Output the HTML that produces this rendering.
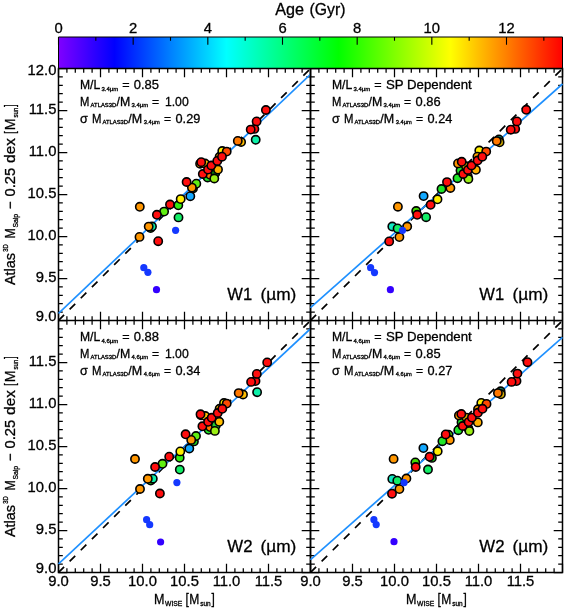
<!DOCTYPE html>
<html><head><meta charset="utf-8"><title>Age (Gyr)</title>
<style>html,body{margin:0;padding:0;background:#fff}svg{display:block;will-change:transform}text{font-family:"Liberation Sans", sans-serif;fill:#000;stroke:#000;stroke-width:0.3px}</style>
</head><body>
<svg width="564" height="608" viewBox="0 0 564 608">
<rect width="564" height="608" fill="#fff"/>
<defs><linearGradient id="cb" x1="0" y1="0" x2="1" y2="0">
<stop offset="0.0000" stop-color="#8000ff"/>
<stop offset="0.0185" stop-color="#6a00ff"/>
<stop offset="0.0370" stop-color="#5500ff"/>
<stop offset="0.0556" stop-color="#4000ff"/>
<stop offset="0.0741" stop-color="#2a00ff"/>
<stop offset="0.0926" stop-color="#1500ff"/>
<stop offset="0.1111" stop-color="#0000ff"/>
<stop offset="0.1296" stop-color="#0015ff"/>
<stop offset="0.1481" stop-color="#002bff"/>
<stop offset="0.1667" stop-color="#0040ff"/>
<stop offset="0.1852" stop-color="#0055ff"/>
<stop offset="0.2037" stop-color="#006aff"/>
<stop offset="0.2222" stop-color="#0080ff"/>
<stop offset="0.2407" stop-color="#0095ff"/>
<stop offset="0.2593" stop-color="#00aaff"/>
<stop offset="0.2778" stop-color="#00bfff"/>
<stop offset="0.2963" stop-color="#00d4ff"/>
<stop offset="0.3148" stop-color="#00eaff"/>
<stop offset="0.3333" stop-color="#00ffff"/>
<stop offset="0.3519" stop-color="#00ffea"/>
<stop offset="0.3704" stop-color="#00ffd4"/>
<stop offset="0.3889" stop-color="#00ffbf"/>
<stop offset="0.4074" stop-color="#00ffaa"/>
<stop offset="0.4259" stop-color="#00ff95"/>
<stop offset="0.4444" stop-color="#00ff80"/>
<stop offset="0.4630" stop-color="#00ff6a"/>
<stop offset="0.4815" stop-color="#00ff55"/>
<stop offset="0.5000" stop-color="#00ff40"/>
<stop offset="0.5185" stop-color="#00ff2a"/>
<stop offset="0.5370" stop-color="#00ff15"/>
<stop offset="0.5556" stop-color="#00ff00"/>
<stop offset="0.5741" stop-color="#15ff00"/>
<stop offset="0.5926" stop-color="#2aff00"/>
<stop offset="0.6111" stop-color="#40ff00"/>
<stop offset="0.6296" stop-color="#55ff00"/>
<stop offset="0.6481" stop-color="#6aff00"/>
<stop offset="0.6667" stop-color="#80ff00"/>
<stop offset="0.6852" stop-color="#95ff00"/>
<stop offset="0.7037" stop-color="#aaff00"/>
<stop offset="0.7222" stop-color="#bfff00"/>
<stop offset="0.7407" stop-color="#d4ff00"/>
<stop offset="0.7593" stop-color="#eaff00"/>
<stop offset="0.7778" stop-color="#ffff00"/>
<stop offset="0.7963" stop-color="#ffea00"/>
<stop offset="0.8148" stop-color="#ffd500"/>
<stop offset="0.8333" stop-color="#ffbf00"/>
<stop offset="0.8519" stop-color="#ffaa00"/>
<stop offset="0.8704" stop-color="#ff9500"/>
<stop offset="0.8889" stop-color="#ff8000"/>
<stop offset="0.9074" stop-color="#ff6a00"/>
<stop offset="0.9259" stop-color="#ff5500"/>
<stop offset="0.9444" stop-color="#ff4000"/>
<stop offset="0.9630" stop-color="#ff2a00"/>
<stop offset="0.9815" stop-color="#ff1500"/>
<stop offset="1.0000" stop-color="#ff0000"/>
</linearGradient>
<clipPath id="cTL"><rect x="57.90" y="67.90" width="253.20" height="253.20"/></clipPath>
<clipPath id="cTR"><rect x="309.90" y="67.90" width="253.20" height="253.20"/></clipPath>
<clipPath id="cBL"><rect x="57.90" y="319.90" width="253.20" height="253.20"/></clipPath>
<clipPath id="cBR"><rect x="309.90" y="319.90" width="253.20" height="253.20"/></clipPath>
</defs>
<rect x="58.50" y="37.00" width="504.00" height="31.50" fill="url(#cb)"/>
<path d="M58.50 68.50V37.00H562.50V68.50" fill="none" stroke="#000" stroke-width="1"/>
<path d="M58.50 37.00v7.80M95.83 37.00v3.80M133.17 37.00v7.80M170.50 37.00v3.80M207.83 37.00v7.80M245.17 37.00v3.80M282.50 37.00v7.80M319.83 37.00v3.80M357.17 37.00v7.80M394.50 37.00v3.80M431.83 37.00v7.80M469.17 37.00v3.80M506.50 37.00v7.80M543.83 37.00v3.80" stroke="#000" stroke-width="1.1" fill="none"/>
<text x="58.50" y="32.6" font-size="14.8" text-anchor="middle">0</text>
<text x="133.17" y="32.6" font-size="14.8" text-anchor="middle">2</text>
<text x="207.83" y="32.6" font-size="14.8" text-anchor="middle">4</text>
<text x="282.50" y="32.6" font-size="14.8" text-anchor="middle">6</text>
<text x="357.17" y="32.6" font-size="14.8" text-anchor="middle">8</text>
<text x="431.83" y="32.6" font-size="14.8" text-anchor="middle">10</text>
<text x="506.50" y="32.6" font-size="14.8" text-anchor="middle">12</text>
<path d="M58.50 68.50H562.50V572.50H58.50ZM310.50 68.50V572.50M58.50 320.50H562.50" stroke="#000" stroke-width="1.50" fill="none" stroke-linecap="butt" stroke-linejoin="miter"/>
<path d="M58.50 68.50v8.80M58.50 311.70v17.60M58.50 572.50v-8.80M66.90 68.50v4.30M66.90 316.20v8.60M66.90 572.50v-4.30M75.30 68.50v4.30M75.30 316.20v8.60M75.30 572.50v-4.30M83.70 68.50v4.30M83.70 316.20v8.60M83.70 572.50v-4.30M92.10 68.50v4.30M92.10 316.20v8.60M92.10 572.50v-4.30M100.50 68.50v8.80M100.50 311.70v17.60M100.50 572.50v-8.80M108.90 68.50v4.30M108.90 316.20v8.60M108.90 572.50v-4.30M117.30 68.50v4.30M117.30 316.20v8.60M117.30 572.50v-4.30M125.70 68.50v4.30M125.70 316.20v8.60M125.70 572.50v-4.30M134.10 68.50v4.30M134.10 316.20v8.60M134.10 572.50v-4.30M142.50 68.50v8.80M142.50 311.70v17.60M142.50 572.50v-8.80M150.90 68.50v4.30M150.90 316.20v8.60M150.90 572.50v-4.30M159.30 68.50v4.30M159.30 316.20v8.60M159.30 572.50v-4.30M167.70 68.50v4.30M167.70 316.20v8.60M167.70 572.50v-4.30M176.10 68.50v4.30M176.10 316.20v8.60M176.10 572.50v-4.30M184.50 68.50v8.80M184.50 311.70v17.60M184.50 572.50v-8.80M192.90 68.50v4.30M192.90 316.20v8.60M192.90 572.50v-4.30M201.30 68.50v4.30M201.30 316.20v8.60M201.30 572.50v-4.30M209.70 68.50v4.30M209.70 316.20v8.60M209.70 572.50v-4.30M218.10 68.50v4.30M218.10 316.20v8.60M218.10 572.50v-4.30M226.50 68.50v8.80M226.50 311.70v17.60M226.50 572.50v-8.80M234.90 68.50v4.30M234.90 316.20v8.60M234.90 572.50v-4.30M243.30 68.50v4.30M243.30 316.20v8.60M243.30 572.50v-4.30M251.70 68.50v4.30M251.70 316.20v8.60M251.70 572.50v-4.30M260.10 68.50v4.30M260.10 316.20v8.60M260.10 572.50v-4.30M268.50 68.50v8.80M268.50 311.70v17.60M268.50 572.50v-8.80M276.90 68.50v4.30M276.90 316.20v8.60M276.90 572.50v-4.30M285.30 68.50v4.30M285.30 316.20v8.60M285.30 572.50v-4.30M293.70 68.50v4.30M293.70 316.20v8.60M293.70 572.50v-4.30M302.10 68.50v4.30M302.10 316.20v8.60M302.10 572.50v-4.30M310.50 68.50v8.80M310.50 311.70v17.60M310.50 572.50v-8.80M310.50 68.50v8.80M310.50 311.70v17.60M310.50 572.50v-8.80M318.90 68.50v4.30M318.90 316.20v8.60M318.90 572.50v-4.30M327.30 68.50v4.30M327.30 316.20v8.60M327.30 572.50v-4.30M335.70 68.50v4.30M335.70 316.20v8.60M335.70 572.50v-4.30M344.10 68.50v4.30M344.10 316.20v8.60M344.10 572.50v-4.30M352.50 68.50v8.80M352.50 311.70v17.60M352.50 572.50v-8.80M360.90 68.50v4.30M360.90 316.20v8.60M360.90 572.50v-4.30M369.30 68.50v4.30M369.30 316.20v8.60M369.30 572.50v-4.30M377.70 68.50v4.30M377.70 316.20v8.60M377.70 572.50v-4.30M386.10 68.50v4.30M386.10 316.20v8.60M386.10 572.50v-4.30M394.50 68.50v8.80M394.50 311.70v17.60M394.50 572.50v-8.80M402.90 68.50v4.30M402.90 316.20v8.60M402.90 572.50v-4.30M411.30 68.50v4.30M411.30 316.20v8.60M411.30 572.50v-4.30M419.70 68.50v4.30M419.70 316.20v8.60M419.70 572.50v-4.30M428.10 68.50v4.30M428.10 316.20v8.60M428.10 572.50v-4.30M436.50 68.50v8.80M436.50 311.70v17.60M436.50 572.50v-8.80M444.90 68.50v4.30M444.90 316.20v8.60M444.90 572.50v-4.30M453.30 68.50v4.30M453.30 316.20v8.60M453.30 572.50v-4.30M461.70 68.50v4.30M461.70 316.20v8.60M461.70 572.50v-4.30M470.10 68.50v4.30M470.10 316.20v8.60M470.10 572.50v-4.30M478.50 68.50v8.80M478.50 311.70v17.60M478.50 572.50v-8.80M486.90 68.50v4.30M486.90 316.20v8.60M486.90 572.50v-4.30M495.30 68.50v4.30M495.30 316.20v8.60M495.30 572.50v-4.30M503.70 68.50v4.30M503.70 316.20v8.60M503.70 572.50v-4.30M512.10 68.50v4.30M512.10 316.20v8.60M512.10 572.50v-4.30M520.50 68.50v8.80M520.50 311.70v17.60M520.50 572.50v-8.80M528.90 68.50v4.30M528.90 316.20v8.60M528.90 572.50v-4.30M537.30 68.50v4.30M537.30 316.20v8.60M537.30 572.50v-4.30M545.70 68.50v4.30M545.70 316.20v8.60M545.70 572.50v-4.30M554.10 68.50v4.30M554.10 316.20v8.60M554.10 572.50v-4.30M562.50 68.50v8.80M562.50 311.70v17.60M562.50 572.50v-8.80M58.50 68.50h8.80M301.70 68.50h17.60M562.50 68.50h-8.80M58.50 76.90h4.30M306.20 76.90h8.60M562.50 76.90h-4.30M58.50 85.30h4.30M306.20 85.30h8.60M562.50 85.30h-4.30M58.50 93.70h4.30M306.20 93.70h8.60M562.50 93.70h-4.30M58.50 102.10h4.30M306.20 102.10h8.60M562.50 102.10h-4.30M58.50 110.50h8.80M301.70 110.50h17.60M562.50 110.50h-8.80M58.50 118.90h4.30M306.20 118.90h8.60M562.50 118.90h-4.30M58.50 127.30h4.30M306.20 127.30h8.60M562.50 127.30h-4.30M58.50 135.70h4.30M306.20 135.70h8.60M562.50 135.70h-4.30M58.50 144.10h4.30M306.20 144.10h8.60M562.50 144.10h-4.30M58.50 152.50h8.80M301.70 152.50h17.60M562.50 152.50h-8.80M58.50 160.90h4.30M306.20 160.90h8.60M562.50 160.90h-4.30M58.50 169.30h4.30M306.20 169.30h8.60M562.50 169.30h-4.30M58.50 177.70h4.30M306.20 177.70h8.60M562.50 177.70h-4.30M58.50 186.10h4.30M306.20 186.10h8.60M562.50 186.10h-4.30M58.50 194.50h8.80M301.70 194.50h17.60M562.50 194.50h-8.80M58.50 202.90h4.30M306.20 202.90h8.60M562.50 202.90h-4.30M58.50 211.30h4.30M306.20 211.30h8.60M562.50 211.30h-4.30M58.50 219.70h4.30M306.20 219.70h8.60M562.50 219.70h-4.30M58.50 228.10h4.30M306.20 228.10h8.60M562.50 228.10h-4.30M58.50 236.50h8.80M301.70 236.50h17.60M562.50 236.50h-8.80M58.50 244.90h4.30M306.20 244.90h8.60M562.50 244.90h-4.30M58.50 253.30h4.30M306.20 253.30h8.60M562.50 253.30h-4.30M58.50 261.70h4.30M306.20 261.70h8.60M562.50 261.70h-4.30M58.50 270.10h4.30M306.20 270.10h8.60M562.50 270.10h-4.30M58.50 278.50h8.80M301.70 278.50h17.60M562.50 278.50h-8.80M58.50 286.90h4.30M306.20 286.90h8.60M562.50 286.90h-4.30M58.50 295.30h4.30M306.20 295.30h8.60M562.50 295.30h-4.30M58.50 303.70h4.30M306.20 303.70h8.60M562.50 303.70h-4.30M58.50 312.10h4.30M306.20 312.10h8.60M562.50 312.10h-4.30M58.50 320.50h8.80M301.70 320.50h17.60M562.50 320.50h-8.80M58.50 320.50h8.80M301.70 320.50h17.60M562.50 320.50h-8.80M58.50 328.90h4.30M306.20 328.90h8.60M562.50 328.90h-4.30M58.50 337.30h4.30M306.20 337.30h8.60M562.50 337.30h-4.30M58.50 345.70h4.30M306.20 345.70h8.60M562.50 345.70h-4.30M58.50 354.10h4.30M306.20 354.10h8.60M562.50 354.10h-4.30M58.50 362.50h8.80M301.70 362.50h17.60M562.50 362.50h-8.80M58.50 370.90h4.30M306.20 370.90h8.60M562.50 370.90h-4.30M58.50 379.30h4.30M306.20 379.30h8.60M562.50 379.30h-4.30M58.50 387.70h4.30M306.20 387.70h8.60M562.50 387.70h-4.30M58.50 396.10h4.30M306.20 396.10h8.60M562.50 396.10h-4.30M58.50 404.50h8.80M301.70 404.50h17.60M562.50 404.50h-8.80M58.50 412.90h4.30M306.20 412.90h8.60M562.50 412.90h-4.30M58.50 421.30h4.30M306.20 421.30h8.60M562.50 421.30h-4.30M58.50 429.70h4.30M306.20 429.70h8.60M562.50 429.70h-4.30M58.50 438.10h4.30M306.20 438.10h8.60M562.50 438.10h-4.30M58.50 446.50h8.80M301.70 446.50h17.60M562.50 446.50h-8.80M58.50 454.90h4.30M306.20 454.90h8.60M562.50 454.90h-4.30M58.50 463.30h4.30M306.20 463.30h8.60M562.50 463.30h-4.30M58.50 471.70h4.30M306.20 471.70h8.60M562.50 471.70h-4.30M58.50 480.10h4.30M306.20 480.10h8.60M562.50 480.10h-4.30M58.50 488.50h8.80M301.70 488.50h17.60M562.50 488.50h-8.80M58.50 496.90h4.30M306.20 496.90h8.60M562.50 496.90h-4.30M58.50 505.30h4.30M306.20 505.30h8.60M562.50 505.30h-4.30M58.50 513.70h4.30M306.20 513.70h8.60M562.50 513.70h-4.30M58.50 522.10h4.30M306.20 522.10h8.60M562.50 522.10h-4.30M58.50 530.50h8.80M301.70 530.50h17.60M562.50 530.50h-8.80M58.50 538.90h4.30M306.20 538.90h8.60M562.50 538.90h-4.30M58.50 547.30h4.30M306.20 547.30h8.60M562.50 547.30h-4.30M58.50 555.70h4.30M306.20 555.70h8.60M562.50 555.70h-4.30M58.50 564.10h4.30M306.20 564.10h8.60M562.50 564.10h-4.30M58.50 572.50h8.80M301.70 572.50h17.60M562.50 572.50h-8.80" stroke="#000" stroke-width="1.25" fill="none" stroke-linecap="butt"/>
<g clip-path="url(#cTL)">
<line x1="58.50" y1="320.50" x2="310.50" y2="68.50" stroke="#000" stroke-width="1.7" stroke-dasharray="7.9 7.84"/>
<line x1="58.50" y1="313.40" x2="310.50" y2="74.30" stroke="#1e90ff" stroke-width="1.7"/>
<circle cx="139.5" cy="236.9" r="4.15" fill="#ff9600" stroke="#000" stroke-width="1.6"/>
<circle cx="158.2" cy="241.2" r="4.15" fill="#ff0e0e" stroke="#000" stroke-width="1.6"/>
<circle cx="150.6" cy="228.0" r="4.15" fill="#22cc22" stroke="#000" stroke-width="1.6"/>
<circle cx="152.0" cy="226.5" r="4.15" fill="#0cf0a8" stroke="#000" stroke-width="1.6"/>
<circle cx="148.7" cy="226.6" r="4.15" fill="#ff9600" stroke="#000" stroke-width="1.6"/>
<circle cx="139.8" cy="206.8" r="4.15" fill="#ff9600" stroke="#000" stroke-width="1.6"/>
<circle cx="164.1" cy="211.6" r="4.15" fill="#5fee12" stroke="#000" stroke-width="1.6"/>
<circle cx="156.9" cy="214.8" r="4.15" fill="#ff0e0e" stroke="#000" stroke-width="1.6"/>
<circle cx="170.0" cy="204.5" r="4.15" fill="#ff0e0e" stroke="#000" stroke-width="1.6"/>
<circle cx="178.5" cy="217.4" r="4.15" fill="#12ee66" stroke="#000" stroke-width="1.6"/>
<circle cx="178.3" cy="205.3" r="4.15" fill="#33ee11" stroke="#000" stroke-width="1.6"/>
<circle cx="180.7" cy="199.1" r="4.15" fill="#ffee00" stroke="#000" stroke-width="1.6"/>
<circle cx="190.3" cy="196.2" r="4.15" fill="#12a8ff" stroke="#000" stroke-width="1.6"/>
<circle cx="193.0" cy="188.6" r="4.15" fill="#0c6c0c" stroke="#000" stroke-width="1.6"/>
<circle cx="196.3" cy="183.7" r="4.15" fill="#5fee12" stroke="#000" stroke-width="1.6"/>
<circle cx="191.9" cy="187.6" r="4.15" fill="#ff9600" stroke="#000" stroke-width="1.6"/>
<circle cx="186.6" cy="182.0" r="4.15" fill="#ff0e0e" stroke="#000" stroke-width="1.6"/>
<circle cx="207.6" cy="177.5" r="4.15" fill="#1fe628" stroke="#000" stroke-width="1.6"/>
<circle cx="210.2" cy="174.8" r="4.15" fill="#ff7800" stroke="#000" stroke-width="1.6"/>
<circle cx="215.3" cy="173.3" r="4.15" fill="#0a7a0a" stroke="#000" stroke-width="1.6"/>
<circle cx="214.3" cy="178.5" r="4.15" fill="#9bee14" stroke="#000" stroke-width="1.6"/>
<circle cx="200.1" cy="163.7" r="4.15" fill="#ff9600" stroke="#000" stroke-width="1.6"/>
<circle cx="205.0" cy="163.5" r="4.15" fill="#ffbe00" stroke="#000" stroke-width="1.6"/>
<circle cx="201.2" cy="162.2" r="4.15" fill="#ff0e0e" stroke="#000" stroke-width="1.6"/>
<circle cx="202.8" cy="174.0" r="4.15" fill="#ff0e0e" stroke="#000" stroke-width="1.6"/>
<circle cx="208.0" cy="169.6" r="4.15" fill="#ff0e0e" stroke="#000" stroke-width="1.6"/>
<circle cx="218.0" cy="169.6" r="4.15" fill="#ffb000" stroke="#000" stroke-width="1.6"/>
<circle cx="211.3" cy="165.5" r="4.15" fill="#ff0e0e" stroke="#000" stroke-width="1.6"/>
<circle cx="219.6" cy="156.8" r="4.15" fill="#ffbe00" stroke="#000" stroke-width="1.6"/>
<circle cx="217.3" cy="160.9" r="4.15" fill="#ff0e0e" stroke="#000" stroke-width="1.6"/>
<circle cx="222.3" cy="151.0" r="4.15" fill="#ffee00" stroke="#000" stroke-width="1.6"/>
<circle cx="226.7" cy="151.6" r="4.15" fill="#ff4a00" stroke="#000" stroke-width="1.6"/>
<circle cx="222.0" cy="156.7" r="4.15" fill="#ff0e0e" stroke="#000" stroke-width="1.6"/>
<circle cx="241.1" cy="142.0" r="4.15" fill="#ffbe00" stroke="#000" stroke-width="1.6"/>
<circle cx="237.8" cy="140.9" r="4.15" fill="#ff7800" stroke="#000" stroke-width="1.6"/>
<circle cx="255.7" cy="139.8" r="4.15" fill="#0cf0a8" stroke="#000" stroke-width="1.6"/>
<circle cx="254.4" cy="128.9" r="4.15" fill="#ff0e0e" stroke="#000" stroke-width="1.6"/>
<circle cx="250.7" cy="129.6" r="4.15" fill="#ff0e0e" stroke="#000" stroke-width="1.6"/>
<circle cx="256.6" cy="121.4" r="4.15" fill="#ff0e0e" stroke="#000" stroke-width="1.6"/>
<circle cx="265.9" cy="110.0" r="4.15" fill="#ff0e0e" stroke="#000" stroke-width="1.6"/>
<circle cx="175.6" cy="230.3" r="3.6" fill="#1438ff"/>
<circle cx="143.8" cy="267.7" r="3.6" fill="#1438ff"/>
<circle cx="147.9" cy="272.3" r="3.6" fill="#1438ff"/>
<circle cx="156.5" cy="289.7" r="3.6" fill="#3300ff"/>
</g>
<g clip-path="url(#cBL)">
<line x1="58.50" y1="572.50" x2="310.50" y2="320.50" stroke="#000" stroke-width="1.7" stroke-dasharray="7.9 7.84"/>
<line x1="58.50" y1="564.00" x2="310.50" y2="328.70" stroke="#1e90ff" stroke-width="1.7"/>
<circle cx="140.0" cy="489.0" r="4.15" fill="#ff9600" stroke="#000" stroke-width="1.6"/>
<circle cx="159.9" cy="493.5" r="4.15" fill="#ff0e0e" stroke="#000" stroke-width="1.6"/>
<circle cx="150.8" cy="480.5" r="4.15" fill="#22cc22" stroke="#000" stroke-width="1.6"/>
<circle cx="152.8" cy="478.7" r="4.15" fill="#0cf0a8" stroke="#000" stroke-width="1.6"/>
<circle cx="147.8" cy="478.8" r="4.15" fill="#ff9600" stroke="#000" stroke-width="1.6"/>
<circle cx="135.0" cy="459.0" r="4.15" fill="#ff9600" stroke="#000" stroke-width="1.6"/>
<circle cx="162.5" cy="463.8" r="4.15" fill="#5fee12" stroke="#000" stroke-width="1.6"/>
<circle cx="155.1" cy="467.0" r="4.15" fill="#ff0e0e" stroke="#000" stroke-width="1.6"/>
<circle cx="169.2" cy="456.7" r="4.15" fill="#ff0e0e" stroke="#000" stroke-width="1.6"/>
<circle cx="179.8" cy="469.6" r="4.15" fill="#12ee66" stroke="#000" stroke-width="1.6"/>
<circle cx="179.7" cy="457.8" r="4.15" fill="#33ee11" stroke="#000" stroke-width="1.6"/>
<circle cx="180.3" cy="451.4" r="4.15" fill="#ffee00" stroke="#000" stroke-width="1.6"/>
<circle cx="189.3" cy="448.5" r="4.15" fill="#12a8ff" stroke="#000" stroke-width="1.6"/>
<circle cx="193.9" cy="441.4" r="4.15" fill="#22cc22" stroke="#000" stroke-width="1.6"/>
<circle cx="196.0" cy="436.0" r="4.15" fill="#5fee12" stroke="#000" stroke-width="1.6"/>
<circle cx="191.2" cy="439.9" r="4.15" fill="#ff9600" stroke="#000" stroke-width="1.6"/>
<circle cx="185.6" cy="434.3" r="4.15" fill="#ff0e0e" stroke="#000" stroke-width="1.6"/>
<circle cx="208.6" cy="429.8" r="4.15" fill="#1fe628" stroke="#000" stroke-width="1.6"/>
<circle cx="210.2" cy="427.1" r="4.15" fill="#ff7800" stroke="#000" stroke-width="1.6"/>
<circle cx="215.8" cy="425.4" r="4.15" fill="#22cc33" stroke="#000" stroke-width="1.6"/>
<circle cx="214.9" cy="430.9" r="4.15" fill="#9bee14" stroke="#000" stroke-width="1.6"/>
<circle cx="201.0" cy="415.3" r="4.15" fill="#ff9600" stroke="#000" stroke-width="1.6"/>
<circle cx="205.2" cy="416.0" r="4.15" fill="#ffbe00" stroke="#000" stroke-width="1.6"/>
<circle cx="200.5" cy="414.3" r="4.15" fill="#ff0e0e" stroke="#000" stroke-width="1.6"/>
<circle cx="202.4" cy="426.3" r="4.15" fill="#ff0e0e" stroke="#000" stroke-width="1.6"/>
<circle cx="208.1" cy="421.8" r="4.15" fill="#ff0e0e" stroke="#000" stroke-width="1.6"/>
<circle cx="219.3" cy="421.8" r="4.15" fill="#ffbe00" stroke="#000" stroke-width="1.6"/>
<circle cx="211.7" cy="417.8" r="4.15" fill="#ff0e0e" stroke="#000" stroke-width="1.6"/>
<circle cx="219.6" cy="408.8" r="4.15" fill="#ffbe00" stroke="#000" stroke-width="1.6"/>
<circle cx="217.7" cy="413.0" r="4.15" fill="#ff0e0e" stroke="#000" stroke-width="1.6"/>
<circle cx="224.0" cy="403.0" r="4.15" fill="#ffee00" stroke="#000" stroke-width="1.6"/>
<circle cx="226.7" cy="403.6" r="4.15" fill="#ff4a00" stroke="#000" stroke-width="1.6"/>
<circle cx="222.3" cy="408.8" r="4.15" fill="#ff0e0e" stroke="#000" stroke-width="1.6"/>
<circle cx="243.0" cy="394.5" r="4.15" fill="#ffbe00" stroke="#000" stroke-width="1.6"/>
<circle cx="238.7" cy="393.1" r="4.15" fill="#ff7800" stroke="#000" stroke-width="1.6"/>
<circle cx="257.1" cy="392.2" r="4.15" fill="#0cf0a8" stroke="#000" stroke-width="1.6"/>
<circle cx="255.5" cy="381.1" r="4.15" fill="#ff0e0e" stroke="#000" stroke-width="1.6"/>
<circle cx="251.1" cy="381.9" r="4.15" fill="#ff0e0e" stroke="#000" stroke-width="1.6"/>
<circle cx="256.8" cy="373.9" r="4.15" fill="#ff0e0e" stroke="#000" stroke-width="1.6"/>
<circle cx="267.2" cy="362.4" r="4.15" fill="#ff0e0e" stroke="#000" stroke-width="1.6"/>
<circle cx="176.9" cy="482.6" r="3.6" fill="#1438ff"/>
<circle cx="146.6" cy="519.7" r="3.6" fill="#1438ff"/>
<circle cx="149.7" cy="524.7" r="3.6" fill="#1438ff"/>
<circle cx="160.6" cy="542.0" r="3.6" fill="#3300ff"/>
</g>
<path d="M310.50 68.50V572.50" stroke="#000" stroke-width="1.50" fill="none"/>
<g clip-path="url(#cTR)">
<line x1="310.50" y1="320.50" x2="562.50" y2="68.50" stroke="#000" stroke-width="1.7" stroke-dasharray="7.9 7.84"/>
<line x1="310.50" y1="307.70" x2="562.50" y2="84.00" stroke="#1e90ff" stroke-width="1.7"/>
<circle cx="389.2" cy="241.4" r="4.15" fill="#ff0e0e" stroke="#000" stroke-width="1.6"/>
<circle cx="399.4" cy="237.1" r="4.15" fill="#ff9600" stroke="#000" stroke-width="1.6"/>
<circle cx="392.3" cy="226.5" r="4.15" fill="#12e8c0" stroke="#000" stroke-width="1.6"/>
<circle cx="407.2" cy="226.5" r="4.15" fill="#ff9600" stroke="#000" stroke-width="1.6"/>
<circle cx="397.6" cy="228.4" r="4.15" fill="#12ee66" stroke="#000" stroke-width="1.6"/>
<circle cx="397.9" cy="206.7" r="4.15" fill="#ff9600" stroke="#000" stroke-width="1.6"/>
<circle cx="426.1" cy="217.2" r="4.15" fill="#12ee66" stroke="#000" stroke-width="1.6"/>
<circle cx="416.2" cy="211.0" r="4.15" fill="#44dd00" stroke="#000" stroke-width="1.6"/>
<circle cx="417.2" cy="214.8" r="4.15" fill="#ff0e0e" stroke="#000" stroke-width="1.6"/>
<circle cx="423.6" cy="196.1" r="4.15" fill="#12a8ff" stroke="#000" stroke-width="1.6"/>
<circle cx="430.6" cy="204.8" r="4.15" fill="#ff0e0e" stroke="#000" stroke-width="1.6"/>
<circle cx="437.5" cy="199.3" r="4.15" fill="#ffee00" stroke="#000" stroke-width="1.6"/>
<circle cx="450.4" cy="188.0" r="4.15" fill="#ff9600" stroke="#000" stroke-width="1.6"/>
<circle cx="441.5" cy="189.0" r="4.15" fill="#1fe628" stroke="#000" stroke-width="1.6"/>
<circle cx="447.0" cy="182.1" r="4.15" fill="#ff0e0e" stroke="#000" stroke-width="1.6"/>
<circle cx="457.5" cy="178.2" r="4.15" fill="#1fe628" stroke="#000" stroke-width="1.6"/>
<circle cx="467.8" cy="176.5" r="4.15" fill="#ff7800" stroke="#000" stroke-width="1.6"/>
<circle cx="468.4" cy="179.0" r="4.15" fill="#9bee14" stroke="#000" stroke-width="1.6"/>
<circle cx="460.5" cy="170.5" r="4.15" fill="#1fe628" stroke="#000" stroke-width="1.6"/>
<circle cx="458.0" cy="163.4" r="4.15" fill="#ff9600" stroke="#000" stroke-width="1.6"/>
<circle cx="466.0" cy="166.3" r="4.15" fill="#d0aa00" stroke="#000" stroke-width="1.6"/>
<circle cx="461.7" cy="161.8" r="4.15" fill="#ff0e0e" stroke="#000" stroke-width="1.6"/>
<circle cx="463.2" cy="174.0" r="4.15" fill="#ff0e0e" stroke="#000" stroke-width="1.6"/>
<circle cx="467.9" cy="170.0" r="4.15" fill="#ff0e0e" stroke="#000" stroke-width="1.6"/>
<circle cx="475.9" cy="169.8" r="4.15" fill="#ffb000" stroke="#000" stroke-width="1.6"/>
<circle cx="471.5" cy="165.5" r="4.15" fill="#ff0e0e" stroke="#000" stroke-width="1.6"/>
<circle cx="479.3" cy="150.5" r="4.15" fill="#ffee00" stroke="#000" stroke-width="1.6"/>
<circle cx="486.2" cy="151.6" r="4.15" fill="#ff4a00" stroke="#000" stroke-width="1.6"/>
<circle cx="477.4" cy="156.7" r="4.15" fill="#ffa400" stroke="#000" stroke-width="1.6"/>
<circle cx="477.6" cy="160.5" r="4.15" fill="#ff0e0e" stroke="#000" stroke-width="1.6"/>
<circle cx="482.3" cy="156.7" r="4.15" fill="#ff0e0e" stroke="#000" stroke-width="1.6"/>
<circle cx="498.9" cy="139.4" r="4.15" fill="#118866" stroke="#000" stroke-width="1.6"/>
<circle cx="499.6" cy="142.3" r="4.15" fill="#d0aa00" stroke="#000" stroke-width="1.6"/>
<circle cx="496.7" cy="141.1" r="4.15" fill="#ff7800" stroke="#000" stroke-width="1.6"/>
<circle cx="515.2" cy="128.9" r="4.15" fill="#ff0e0e" stroke="#000" stroke-width="1.6"/>
<circle cx="510.7" cy="129.7" r="4.15" fill="#ff0e0e" stroke="#000" stroke-width="1.6"/>
<circle cx="516.9" cy="121.4" r="4.15" fill="#ff0e0e" stroke="#000" stroke-width="1.6"/>
<circle cx="526.2" cy="109.8" r="4.15" fill="#ff0e0e" stroke="#000" stroke-width="1.6"/>
<circle cx="402.5" cy="230.3" r="3.6" fill="#1438ff"/>
<circle cx="370.6" cy="267.7" r="3.6" fill="#1438ff"/>
<circle cx="374.5" cy="272.6" r="3.6" fill="#1438ff"/>
<circle cx="390.4" cy="289.7" r="3.6" fill="#3300ff"/>
</g>
<g clip-path="url(#cBR)">
<line x1="310.50" y1="572.50" x2="562.50" y2="320.50" stroke="#000" stroke-width="1.7" stroke-dasharray="7.9 7.84"/>
<line x1="310.50" y1="559.70" x2="562.50" y2="337.40" stroke="#1e90ff" stroke-width="1.7"/>
<circle cx="392.0" cy="493.7" r="4.15" fill="#ff0e0e" stroke="#000" stroke-width="1.6"/>
<circle cx="399.4" cy="489.1" r="4.15" fill="#ff9600" stroke="#000" stroke-width="1.6"/>
<circle cx="392.3" cy="478.9" r="4.15" fill="#12e8c0" stroke="#000" stroke-width="1.6"/>
<circle cx="406.4" cy="478.5" r="4.15" fill="#ff9600" stroke="#000" stroke-width="1.6"/>
<circle cx="397.3" cy="480.7" r="4.15" fill="#12ee66" stroke="#000" stroke-width="1.6"/>
<circle cx="393.6" cy="458.9" r="4.15" fill="#ff9600" stroke="#000" stroke-width="1.6"/>
<circle cx="428.0" cy="469.5" r="4.15" fill="#12ee66" stroke="#000" stroke-width="1.6"/>
<circle cx="415.3" cy="462.4" r="4.15" fill="#44dd00" stroke="#000" stroke-width="1.6"/>
<circle cx="415.7" cy="467.0" r="4.15" fill="#ff0e0e" stroke="#000" stroke-width="1.6"/>
<circle cx="423.4" cy="448.1" r="4.15" fill="#12a8ff" stroke="#000" stroke-width="1.6"/>
<circle cx="431.9" cy="457.9" r="4.15" fill="#18b818" stroke="#000" stroke-width="1.6"/>
<circle cx="429.6" cy="456.8" r="4.15" fill="#ff0e0e" stroke="#000" stroke-width="1.6"/>
<circle cx="437.7" cy="451.3" r="4.15" fill="#ffee00" stroke="#000" stroke-width="1.6"/>
<circle cx="448.5" cy="434.8" r="4.15" fill="#5fee12" stroke="#000" stroke-width="1.6"/>
<circle cx="449.8" cy="440.0" r="4.15" fill="#ff9600" stroke="#000" stroke-width="1.6"/>
<circle cx="442.4" cy="441.2" r="4.15" fill="#1fe628" stroke="#000" stroke-width="1.6"/>
<circle cx="445.7" cy="434.4" r="4.15" fill="#ff0e0e" stroke="#000" stroke-width="1.6"/>
<circle cx="458.3" cy="430.2" r="4.15" fill="#1fe628" stroke="#000" stroke-width="1.6"/>
<circle cx="468.4" cy="428.5" r="4.15" fill="#ff7800" stroke="#000" stroke-width="1.6"/>
<circle cx="469.4" cy="431.0" r="4.15" fill="#9bee14" stroke="#000" stroke-width="1.6"/>
<circle cx="461.5" cy="422.3" r="4.15" fill="#1fe628" stroke="#000" stroke-width="1.6"/>
<circle cx="458.9" cy="415.4" r="4.15" fill="#ff9600" stroke="#000" stroke-width="1.6"/>
<circle cx="466.3" cy="417.6" r="4.15" fill="#d8a800" stroke="#000" stroke-width="1.6"/>
<circle cx="461.3" cy="414.0" r="4.15" fill="#ff0e0e" stroke="#000" stroke-width="1.6"/>
<circle cx="462.7" cy="426.0" r="4.15" fill="#ff0e0e" stroke="#000" stroke-width="1.6"/>
<circle cx="468.6" cy="422.1" r="4.15" fill="#ff0e0e" stroke="#000" stroke-width="1.6"/>
<circle cx="477.8" cy="422.4" r="4.15" fill="#ffb000" stroke="#000" stroke-width="1.6"/>
<circle cx="471.9" cy="417.6" r="4.15" fill="#ff0e0e" stroke="#000" stroke-width="1.6"/>
<circle cx="481.3" cy="402.9" r="4.15" fill="#ffee00" stroke="#000" stroke-width="1.6"/>
<circle cx="486.5" cy="403.9" r="4.15" fill="#ff4a00" stroke="#000" stroke-width="1.6"/>
<circle cx="478.0" cy="409.3" r="4.15" fill="#ffa400" stroke="#000" stroke-width="1.6"/>
<circle cx="477.9" cy="412.8" r="4.15" fill="#ff0e0e" stroke="#000" stroke-width="1.6"/>
<circle cx="482.5" cy="408.8" r="4.15" fill="#ff0e0e" stroke="#000" stroke-width="1.6"/>
<circle cx="500.6" cy="391.3" r="4.15" fill="#118866" stroke="#000" stroke-width="1.6"/>
<circle cx="500.9" cy="394.3" r="4.15" fill="#d0aa00" stroke="#000" stroke-width="1.6"/>
<circle cx="497.9" cy="393.1" r="4.15" fill="#ff7800" stroke="#000" stroke-width="1.6"/>
<circle cx="516.5" cy="381.1" r="4.15" fill="#ff0e0e" stroke="#000" stroke-width="1.6"/>
<circle cx="511.6" cy="381.9" r="4.15" fill="#ff0e0e" stroke="#000" stroke-width="1.6"/>
<circle cx="517.4" cy="373.6" r="4.15" fill="#ff0e0e" stroke="#000" stroke-width="1.6"/>
<circle cx="527.5" cy="362.2" r="4.15" fill="#ff0e0e" stroke="#000" stroke-width="1.6"/>
<circle cx="404.1" cy="482.6" r="3.6" fill="#1438ff"/>
<circle cx="373.9" cy="519.7" r="3.6" fill="#1438ff"/>
<circle cx="376.2" cy="524.6" r="3.6" fill="#1438ff"/>
<circle cx="394.0" cy="541.7" r="3.6" fill="#3300ff"/>
</g>
<text x="56.4" y="74.70" font-size="14.8" text-anchor="end">12.0</text>
<text x="56.4" y="114.10" font-size="14.8" text-anchor="end">11.5</text>
<text x="56.4" y="156.10" font-size="14.8" text-anchor="end">11.0</text>
<text x="56.4" y="198.10" font-size="14.8" text-anchor="end">10.5</text>
<text x="56.4" y="240.10" font-size="14.8" text-anchor="end">10.0</text>
<text x="56.4" y="282.10" font-size="14.8" text-anchor="end">9.5</text>
<text x="56.4" y="320.80" font-size="14.8" text-anchor="end">9.0</text>
<text x="56.4" y="366.10" font-size="14.8" text-anchor="end">11.5</text>
<text x="56.4" y="408.10" font-size="14.8" text-anchor="end">11.0</text>
<text x="56.4" y="450.10" font-size="14.8" text-anchor="end">10.5</text>
<text x="56.4" y="492.10" font-size="14.8" text-anchor="end">10.0</text>
<text x="56.4" y="534.10" font-size="14.8" text-anchor="end">9.5</text>
<text x="56.4" y="572.50" font-size="14.8" text-anchor="end">9.0</text>
<text x="58.50" y="585.6" font-size="14.8" text-anchor="middle">9.0</text>
<text x="100.50" y="585.6" font-size="14.8" text-anchor="middle">9.5</text>
<text x="142.50" y="585.6" font-size="14.8" text-anchor="middle">10.0</text>
<text x="184.50" y="585.6" font-size="14.8" text-anchor="middle">10.5</text>
<text x="226.50" y="585.6" font-size="14.8" text-anchor="middle">11.0</text>
<text x="268.50" y="585.6" font-size="14.8" text-anchor="middle">11.5</text>
<text x="310.50" y="585.6" font-size="14.8" text-anchor="middle">9.0</text>
<text x="352.50" y="585.6" font-size="14.8" text-anchor="middle">9.5</text>
<text x="394.50" y="585.6" font-size="14.8" text-anchor="middle">10.0</text>
<text x="436.50" y="585.6" font-size="14.8" text-anchor="middle">10.5</text>
<text x="478.50" y="585.6" font-size="14.8" text-anchor="middle">11.0</text>
<text x="520.50" y="585.6" font-size="14.8" text-anchor="middle">11.5</text>
<text transform="translate(153.90 603.80) scale(0.8982 1)" font-size="14.00">M</text>
<text transform="translate(165.10 606.10) scale(0.9957 1)" font-size="6.80" stroke-width="0.20">WISE</text>
<text transform="translate(185.40 603.80) scale(0.8418 1)" font-size="14.00">[</text>
<text transform="translate(189.30 603.80) scale(0.8640 1)" font-size="14.00">M</text>
<text transform="translate(200.20 606.10) scale(0.9591 1)" font-size="6.80" stroke-width="0.20">sun</text>
<text transform="translate(211.60 603.80) scale(0.8418 1)" font-size="14.00">]</text>
<text transform="translate(405.90 603.80) scale(0.8982 1)" font-size="14.00">M</text>
<text transform="translate(417.10 606.10) scale(0.9957 1)" font-size="6.80" stroke-width="0.20">WISE</text>
<text transform="translate(437.40 603.80) scale(0.8418 1)" font-size="14.00">[</text>
<text transform="translate(441.30 603.80) scale(0.8640 1)" font-size="14.00">M</text>
<text transform="translate(452.20 606.10) scale(0.9591 1)" font-size="6.80" stroke-width="0.20">sun</text>
<text transform="translate(463.60 603.80) scale(0.8418 1)" font-size="14.00">]</text>
<text transform="translate(15.10 285.10) rotate(-90) scale(0.9881 1)" font-size="14.60">Atlas</text>
<text transform="translate(7.90 251.80) rotate(-90) scale(0.8617 1)" font-size="6.80" stroke-width="0.20">3D</text>
<text transform="translate(15.10 238.60) rotate(-90) scale(0.8531 1)" font-size="14.60">M</text>
<text transform="translate(17.50 227.50) rotate(-90) scale(1.0000 1)" font-size="6.80" stroke-width="0.20">Salp</text>
<text transform="translate(15.10 208.90) rotate(-90) scale(0.8898 1)" font-size="14.60">−</text>
<text transform="translate(15.10 196.50) rotate(-90) scale(1.0071 1)" font-size="14.60">0.25</text>
<text transform="translate(15.10 162.90) rotate(-90) scale(1.0508 1)" font-size="14.60">dex</text>
<text transform="translate(15.10 133.70) rotate(-90) scale(0.6360 1)" font-size="14.60">[</text>
<text transform="translate(15.10 130.30) rotate(-90) scale(0.9679 1)" font-size="14.60">M</text>
<text transform="translate(17.50 117.50) rotate(-90) scale(0.8951 1)" font-size="6.80" stroke-width="0.20">sun</text>
<text transform="translate(15.10 107.10) rotate(-90) scale(0.6605 1)" font-size="14.60">]</text>
<text transform="translate(15.10 537.10) rotate(-90) scale(0.9881 1)" font-size="14.60">Atlas</text>
<text transform="translate(7.90 503.80) rotate(-90) scale(0.8617 1)" font-size="6.80" stroke-width="0.20">3D</text>
<text transform="translate(15.10 490.60) rotate(-90) scale(0.8531 1)" font-size="14.60">M</text>
<text transform="translate(17.50 479.50) rotate(-90) scale(1.0000 1)" font-size="6.80" stroke-width="0.20">Salp</text>
<text transform="translate(15.10 460.90) rotate(-90) scale(0.8898 1)" font-size="14.60">−</text>
<text transform="translate(15.10 448.50) rotate(-90) scale(1.0071 1)" font-size="14.60">0.25</text>
<text transform="translate(15.10 414.90) rotate(-90) scale(1.0508 1)" font-size="14.60">dex</text>
<text transform="translate(15.10 385.70) rotate(-90) scale(0.6360 1)" font-size="14.60">[</text>
<text transform="translate(15.10 382.30) rotate(-90) scale(0.9679 1)" font-size="14.60">M</text>
<text transform="translate(17.50 369.50) rotate(-90) scale(0.8951 1)" font-size="6.80" stroke-width="0.20">sun</text>
<text transform="translate(15.10 359.10) rotate(-90) scale(0.6605 1)" font-size="14.60">]</text>
<text transform="translate(80.00 89.40) scale(0.9478 1)" font-size="12.80">M/L</text>
<text transform="translate(101.40 91.00) scale(1.0526 1)" font-size="5.70" stroke-width="0.12">3.4µm</text>
<text transform="translate(122.20 89.40) scale(0.9882 1)" font-size="12.80">=</text>
<text transform="translate(133.70 89.40) scale(1.0162 1)" font-size="12.80">0.85</text>
<text transform="translate(80.00 105.80) scale(0.8795 1)" font-size="12.80">M</text>
<text transform="translate(90.60 107.40) scale(1.0318 1)" font-size="5.70" stroke-width="0.12">ATLAS3D</text>
<text transform="translate(116.50 105.80) scale(0.9642 1)" font-size="12.80">/M</text>
<text transform="translate(131.50 107.40) scale(1.0464 1)" font-size="5.70" stroke-width="0.12">3.4µm</text>
<text transform="translate(151.90 105.80) scale(0.9482 1)" font-size="12.80">=</text>
<text transform="translate(164.90 105.80) scale(0.9560 1)" font-size="12.80">1.00</text>
<text transform="translate(80.00 122.50) scale(0.9909 1)" font-size="12.80">σ</text>
<text transform="translate(91.90 122.50) scale(0.8888 1)" font-size="12.80">M</text>
<text transform="translate(102.40 124.10) scale(1.0318 1)" font-size="5.70" stroke-width="0.12">ATLAS3D</text>
<text transform="translate(128.30 122.50) scale(0.9783 1)" font-size="12.80">/M</text>
<text transform="translate(143.70 124.10) scale(1.0088 1)" font-size="5.70" stroke-width="0.12">3.4µm</text>
<text transform="translate(163.90 122.50) scale(0.9482 1)" font-size="12.80">=</text>
<text transform="translate(175.50 122.50) scale(0.9961 1)" font-size="12.80">0.29</text>
<text transform="translate(332.00 89.40) scale(0.9478 1)" font-size="12.80">M/L</text>
<text transform="translate(353.40 91.00) scale(1.0526 1)" font-size="5.70" stroke-width="0.12">3.4µm</text>
<text transform="translate(374.20 89.40) scale(0.9882 1)" font-size="12.80">=</text>
<text transform="translate(385.90 89.40) scale(1.0348 1)" font-size="12.80">SP Dependent</text>
<text transform="translate(332.00 105.80) scale(0.8795 1)" font-size="12.80">M</text>
<text transform="translate(342.60 107.40) scale(1.0318 1)" font-size="5.70" stroke-width="0.12">ATLAS3D</text>
<text transform="translate(368.50 105.80) scale(0.9642 1)" font-size="12.80">/M</text>
<text transform="translate(383.50 107.40) scale(1.0464 1)" font-size="5.70" stroke-width="0.12">3.4µm</text>
<text transform="translate(403.90 105.80) scale(0.9482 1)" font-size="12.80">=</text>
<text transform="translate(415.60 105.80) scale(1.0082 1)" font-size="12.80">0.86</text>
<text transform="translate(332.00 122.50) scale(0.9909 1)" font-size="12.80">σ</text>
<text transform="translate(343.90 122.50) scale(0.8888 1)" font-size="12.80">M</text>
<text transform="translate(354.40 124.10) scale(1.0318 1)" font-size="5.70" stroke-width="0.12">ATLAS3D</text>
<text transform="translate(380.30 122.50) scale(0.9783 1)" font-size="12.80">/M</text>
<text transform="translate(395.70 124.10) scale(1.0088 1)" font-size="5.70" stroke-width="0.12">3.4µm</text>
<text transform="translate(415.90 122.50) scale(0.9482 1)" font-size="12.80">=</text>
<text transform="translate(427.50 122.50) scale(0.9961 1)" font-size="12.80">0.24</text>
<text transform="translate(80.00 341.40) scale(0.9478 1)" font-size="12.80">M/L</text>
<text transform="translate(101.40 343.00) scale(1.0526 1)" font-size="5.70" stroke-width="0.12">4.6µm</text>
<text transform="translate(122.20 341.40) scale(0.9882 1)" font-size="12.80">=</text>
<text transform="translate(133.70 341.40) scale(1.0162 1)" font-size="12.80">0.88</text>
<text transform="translate(80.00 357.80) scale(0.8795 1)" font-size="12.80">M</text>
<text transform="translate(90.60 359.40) scale(1.0318 1)" font-size="5.70" stroke-width="0.12">ATLAS3D</text>
<text transform="translate(116.50 357.80) scale(0.9642 1)" font-size="12.80">/M</text>
<text transform="translate(131.50 359.40) scale(1.0464 1)" font-size="5.70" stroke-width="0.12">4.6µm</text>
<text transform="translate(151.90 357.80) scale(0.9482 1)" font-size="12.80">=</text>
<text transform="translate(164.90 357.80) scale(0.9560 1)" font-size="12.80">1.00</text>
<text transform="translate(80.00 374.50) scale(0.9909 1)" font-size="12.80">σ</text>
<text transform="translate(91.90 374.50) scale(0.8888 1)" font-size="12.80">M</text>
<text transform="translate(102.40 376.10) scale(1.0318 1)" font-size="5.70" stroke-width="0.12">ATLAS3D</text>
<text transform="translate(128.30 374.50) scale(0.9783 1)" font-size="12.80">/M</text>
<text transform="translate(143.70 376.10) scale(1.0088 1)" font-size="5.70" stroke-width="0.12">4.6µm</text>
<text transform="translate(163.90 374.50) scale(0.9482 1)" font-size="12.80">=</text>
<text transform="translate(175.50 374.50) scale(0.9961 1)" font-size="12.80">0.34</text>
<text transform="translate(332.00 341.40) scale(0.9478 1)" font-size="12.80">M/L</text>
<text transform="translate(353.40 343.00) scale(1.0526 1)" font-size="5.70" stroke-width="0.12">4.6µm</text>
<text transform="translate(374.20 341.40) scale(0.9882 1)" font-size="12.80">=</text>
<text transform="translate(385.90 341.40) scale(1.0348 1)" font-size="12.80">SP Dependent</text>
<text transform="translate(332.00 357.80) scale(0.8795 1)" font-size="12.80">M</text>
<text transform="translate(342.60 359.40) scale(1.0318 1)" font-size="5.70" stroke-width="0.12">ATLAS3D</text>
<text transform="translate(368.50 357.80) scale(0.9642 1)" font-size="12.80">/M</text>
<text transform="translate(383.50 359.40) scale(1.0464 1)" font-size="5.70" stroke-width="0.12">4.6µm</text>
<text transform="translate(403.90 357.80) scale(0.9482 1)" font-size="12.80">=</text>
<text transform="translate(415.60 357.80) scale(1.0082 1)" font-size="12.80">0.85</text>
<text transform="translate(332.00 374.50) scale(0.9909 1)" font-size="12.80">σ</text>
<text transform="translate(343.90 374.50) scale(0.8888 1)" font-size="12.80">M</text>
<text transform="translate(354.40 376.10) scale(1.0318 1)" font-size="5.70" stroke-width="0.12">ATLAS3D</text>
<text transform="translate(380.30 374.50) scale(0.9783 1)" font-size="12.80">/M</text>
<text transform="translate(395.70 376.10) scale(1.0088 1)" font-size="5.70" stroke-width="0.12">4.6µm</text>
<text transform="translate(415.90 374.50) scale(0.9482 1)" font-size="12.80">=</text>
<text transform="translate(427.50 374.50) scale(0.9961 1)" font-size="12.80">0.27</text>
<text transform="translate(275.30 15.40) scale(0.9866 1)" font-size="16.40">Age</text>
<text transform="translate(309.60 15.40) scale(0.9622 1)" font-size="16.40">(Gyr)</text>
<text transform="translate(227.30 299.50) scale(0.9612 1)" font-size="17.20">W1</text>
<text transform="translate(260.40 299.50) scale(1.0059 1)" font-size="17.20">(µm)</text>
<text transform="translate(479.30 299.50) scale(0.9612 1)" font-size="17.20">W1</text>
<text transform="translate(512.40 299.50) scale(1.0059 1)" font-size="17.20">(µm)</text>
<text transform="translate(227.30 551.50) scale(0.9767 1)" font-size="17.20">W2</text>
<text transform="translate(260.40 551.50) scale(1.0059 1)" font-size="17.20">(µm)</text>
<text transform="translate(479.30 551.50) scale(0.9767 1)" font-size="17.20">W2</text>
<text transform="translate(512.40 551.50) scale(1.0059 1)" font-size="17.20">(µm)</text>
</svg></body></html>
